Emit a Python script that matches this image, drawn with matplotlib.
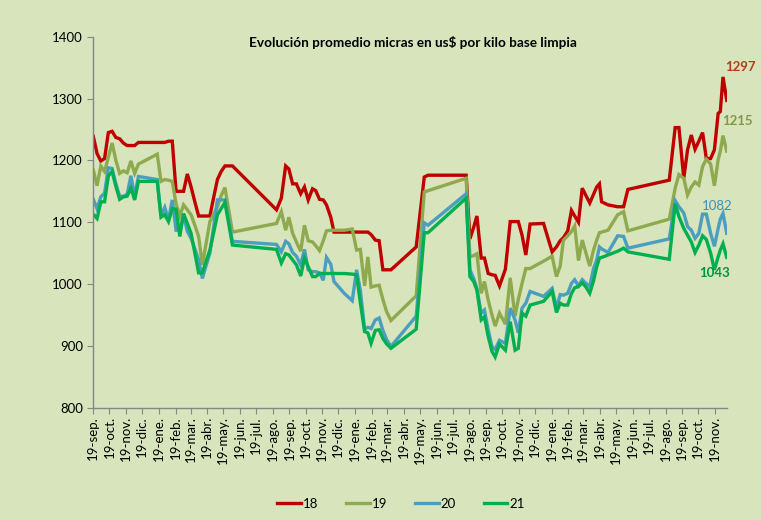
import pandas as pd
import matplotlib
matplotlib.use('Agg')
import matplotlib.pyplot as plt
import matplotlib.dates as mdates
from matplotlib.ticker import FuncFormatter

plt.rcParams['font.family'] = ['Lato', 'DejaVu Sans']

# fechas de remate y promedio us$/kg base limpia por micronaje
fechas = [
    '2018-09-19', '2018-09-26', '2018-10-03', '2018-10-10', '2018-10-17', '2018-10-24',
    '2018-10-31', '2018-11-07', '2018-11-14', '2018-11-21', '2018-11-28', '2018-12-05',
    '2018-12-12', '2019-01-16', '2019-01-23', '2019-01-30', '2019-02-06', '2019-02-13',
    '2019-02-20', '2019-02-27', '2019-03-06', '2019-03-13', '2019-03-20', '2019-03-27',
    '2019-04-03', '2019-04-10', '2019-04-17', '2019-04-24', '2019-05-01', '2019-05-08',
    '2019-05-15', '2019-05-22', '2019-06-05',
    '2019-08-26', '2019-09-04', '2019-09-12', '2019-09-18', '2019-09-25', '2019-10-02',
    '2019-10-10', '2019-10-17', '2019-10-24', '2019-11-01', '2019-11-07', '2019-11-14',
    '2019-11-21', '2019-11-27', '2019-12-05', '2019-12-11', '2019-12-30', '2020-01-14',
    '2020-01-22', '2020-01-29', '2020-02-06', '2020-02-12', '2020-02-18', '2020-02-26',
    '2020-03-04', '2020-03-11', '2020-03-18', '2020-03-26', '2020-05-12', '2020-05-27',
    '2020-06-03', '2020-08-13', '2020-08-20', '2020-08-27', '2020-09-02', '2020-09-10',
    '2020-09-16', '2020-09-23', '2020-09-30', '2020-10-06', '2020-10-14', '2020-10-25',
    '2020-11-03', '2020-11-12', '2020-11-18', '2020-11-25', '2020-12-02', '2020-12-10',
    '2021-01-04', '2021-01-20', '2021-01-28', '2021-02-04', '2021-02-10', '2021-02-18',
    '2021-02-25', '2021-03-03', '2021-03-10', '2021-03-17', '2021-03-24', '2021-03-31',
    '2021-04-07', '2021-04-13', '2021-04-18', '2021-04-22', '2021-05-04', '2021-05-22',
    '2021-06-02', '2021-06-10', '2021-08-26', '2021-09-06', '2021-09-13', '2021-09-22',
    '2021-09-29', '2021-10-06', '2021-10-13', '2021-10-20', '2021-10-27', '2021-11-03',
    '2021-11-11', '2021-11-18', '2021-11-25', '2021-11-29', '2021-12-04', '2021-12-11',
]

m18 = [
    1239, 1211, 1199, 1203, 1245, 1247, 1237, 1235, 1228, 1224, 1224, 1224,
    1229, 1229, 1229, 1229, 1231, 1231, 1150, 1150, 1150, 1178, 1157, 1133,
    1110, 1110, 1110, 1110, 1140, 1169, 1182, 1191, 1191,
    1120, 1139, 1191, 1186, 1162, 1162, 1146, 1157, 1136, 1154, 1151, 1137,
    1136, 1128, 1108, 1084, 1084, 1084, 1084, 1084, 1084, 1084, 1080, 1071,
    1070, 1023, 1023, 1023, 1060, 1173, 1176, 1176, 1073, 1092, 1110, 1042,
    1042, 1017, 1015, 1014, 997, 1024, 1101, 1101, 1101, 1079, 1047, 1097,
    1098, 1052, 1060, 1070, 1075, 1086, 1119, 1110, 1100, 1155, 1143, 1131,
    1145, 1157, 1162, 1133, 1128, 1125, 1125, 1153, 1168, 1253, 1253, 1171,
    1217, 1241, 1218, 1231, 1245, 1203, 1203, 1217, 1276, 1279, 1335, 1297,
]

m19 = [
    1184, 1159, 1191, 1182, 1205, 1228, 1200, 1179, 1183, 1180, 1199, 1179,
    1194, 1210, 1166, 1169, 1168, 1166, 1130, 1110, 1128, 1120, 1112, 1095,
    1077, 1031, 1066, 1101, 1113, 1125, 1143, 1156, 1084,
    1098, 1117, 1087, 1108, 1082, 1068, 1053, 1095, 1070, 1068, 1062, 1054,
    1070, 1086, 1087, 1087, 1087, 1089, 1055, 1056, 997, 1044, 995, 997,
    998, 975, 955, 941, 981, 1149, 1151, 1171, 1044, 1046, 1049, 985,
    1004, 974, 950, 932, 953, 935, 1010, 948, 975, 1001, 1025, 1025,
    1037, 1045, 1012, 1029, 1071, 1078, 1085, 1094, 1038, 1071, 1050, 1029,
    1055, 1071, 1083, 1084, 1087, 1112, 1117, 1086, 1105, 1155, 1177, 1171,
    1144, 1157, 1165, 1160, 1190, 1202, 1194, 1159, 1201, 1215, 1240, 1215,
]

m20 = [
    1137, 1122, 1141, 1147, 1188, 1187, 1162, 1142, 1142, 1145, 1175, 1142,
    1174, 1169, 1110, 1124, 1104, 1136, 1087, 1087, 1112, 1085, 1074, 1057,
    1039, 1009, 1030, 1050, 1093, 1136, 1136, 1136, 1069,
    1064, 1052, 1069, 1065, 1051, 1045, 1031, 1056, 1023, 1020, 1020, 1018,
    1006, 1043, 1032, 1004, 985, 973, 1023, 990, 927, 930, 928, 942,
    945, 925, 910, 899, 948, 1099, 1095, 1146, 1023, 1009, 993, 953,
    958, 926, 899, 894, 909, 904, 961, 942, 921, 961, 969, 988,
    980, 993, 961, 983, 982, 985, 1001, 1007, 997, 1007, 1001, 996,
    1025, 1039, 1060, 1057, 1051, 1078, 1077, 1058, 1073, 1135, 1125, 1115,
    1093, 1087, 1074, 1082, 1113, 1113, 1082, 1061, 1090, 1105, 1114, 1082,
]

m21 = [
    1113, 1106, 1133, 1133, 1175, 1182, 1158, 1137, 1141, 1142, 1155, 1136,
    1166, 1166, 1108, 1112, 1101, 1122, 1121, 1077, 1114, 1098, 1082, 1050,
    1018, 1018, 1037, 1055, 1083, 1112, 1122, 1132, 1063,
    1056, 1034, 1049, 1047, 1039, 1031, 1013, 1042, 1028, 1012, 1012, 1017,
    1017, 1017, 1017, 1017, 1017, 1016, 1015, 970, 923, 921, 904, 925,
    926, 912, 903, 896, 927, 1083, 1083, 1139, 1012, 1004, 990, 942,
    947, 915, 891, 882, 903, 893, 939, 893, 896, 953, 948, 966,
    972, 988, 954, 969, 966, 966, 985, 994, 996, 1002, 995, 985,
    1005, 1028, 1042, 1043, 1047, 1053, 1058, 1052, 1040, 1130, 1109, 1090,
    1079, 1068, 1051, 1063, 1078, 1072, 1050, 1023, 1044, 1055, 1065, 1043,
]

series = ['18', '19', '20', '21']
colores = ['#C00000', '#8EAA4E', '#4A9FC0', '#00B050']
col_etq = ['#B0401A', '#7F9A46', '#3F8FB3', '#00953C']
meses = ['ene', 'feb', 'mar', 'abr', 'may', 'jun', 'jul', 'ago', 'sep', 'oct', 'nov', 'dic']

df = pd.DataFrame({'fecha': pd.to_datetime(fechas), '18': m18, '19': m19, '20': m20, '21': m21})

bg = '#D8E4BC'
fig = plt.figure(figsize=(7.61, 5.20), dpi=100, facecolor=bg)
ax = fig.add_axes([0.1226, 0.216, 0.8324, 0.7134])
ax.set_facecolor(bg)

for s, c in zip(series, colores):
    ax.plot(df['fecha'], df[s], color=c, lw=2.4, label=s, solid_joinstyle='miter')

# etiquetas del ultimo valor
offs = {'18': (10, 24, 'bold'), '19': (8, 22, 'bold'), '20': (-7, 20, 'normal'), '21': (-9, -11, 'bold')}
for s, c in zip(series, col_etq):
    dx, dy, w = offs[s]
    ax.annotate(str(df[s].iloc[-1]), (df['fecha'].iloc[-1], df[s].iloc[-1]),
                xytext=(dx, dy), textcoords='offset points', ha='center', va='center',
                color=c, fontsize=9.5, fontweight=w)

ax.set_ylim(800, 1400)
ax.set_yticks(range(800, 1401, 100))
ax.set_xlim(pd.Timestamp('2018-09-19'), df['fecha'].iloc[-1])
ax.xaxis.set_major_locator(mdates.MonthLocator(bymonthday=19))
ax.xaxis.set_major_formatter(FuncFormatter(
    lambda v, p: '19-' + meses[mdates.num2date(v).month - 1] + '.'))
plt.setp(ax.get_xticklabels(), rotation=90, ha='center', va='top')

for sp in ['top', 'right']:
    ax.spines[sp].set_visible(False)
for sp in ['left', 'bottom']:
    ax.spines[sp].set_color('#868686')
    ax.spines[sp].set_linewidth(1)
ax.tick_params(axis='both', colors='#868686', labelcolor='black', labelsize=9.5,
               length=4, direction='out')
ax.tick_params(axis='x', pad=2)

fig.text(0.542, 0.918, 'Evolución promedio micras en us$ por kilo base limpia',
         ha='center', va='center', fontsize=9.8, fontweight='bold')

fig.legend(loc='center', bbox_to_anchor=(0.527, 0.031), ncol=4, frameon=False,
           fontsize=9.5, handlelength=1.8, handletextpad=0.15, columnspacing=2.1)

fig.savefig('out.png', dpi=100, facecolor=bg)
